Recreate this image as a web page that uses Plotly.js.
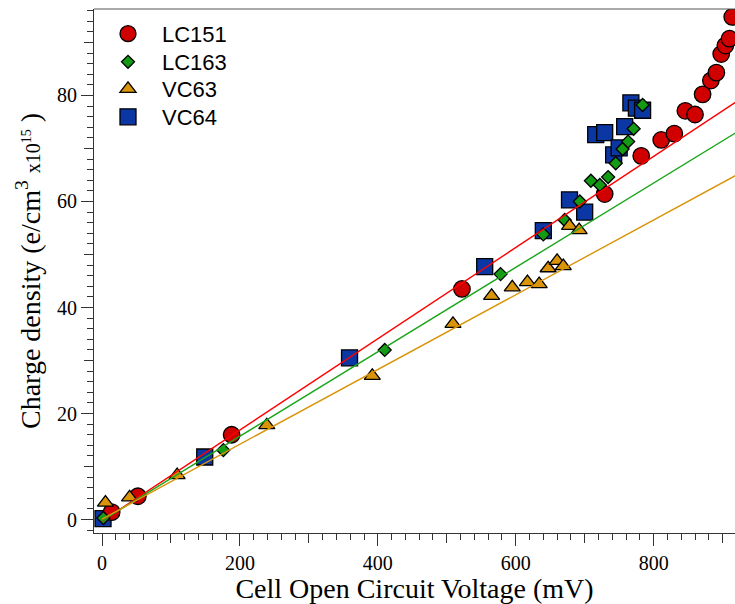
<!DOCTYPE html>
<html>
<head>
<meta charset="utf-8">
<script src="https://cdn.plot.ly/plotly-3.0.1.min.js"></script>
<style>html,body{margin:0;padding:0;overflow:hidden;background:#fff}</style>
</head>
<body>
<div id="chart" style="width:735px;height:604px"></div>
<script>
// ---- data (mV, e/cm3 x1e15) ----
const lc151X = [14, 52, 188, 522, 729, 782, 811, 830, 846, 860, 871, 883, 891, 898, 904, 910, 914];
const lc151Y = [1.4, 4.4, 16.0, 43.5, 61.4, 68.6, 71.6, 72.8, 77.1, 76.4, 80.2, 82.8, 84.3, 87.8, 89.4, 90.7, 94.8];

const lc163X = [2, 176, 410, 578, 640, 671, 693, 709, 722, 734, 745, 755, 763, 771, 784];
const lc163Y = [0.3, 13.1, 32.0, 46.3, 53.8, 56.5, 60.0, 63.9, 63.1, 64.6, 67.2, 69.9, 71.3, 73.7, 78.2];

const vc63X = [5, 40, 109, 239, 392, 509, 565, 595, 617, 634, 647, 660, 669, 678, 692];
const vc63Y = [3.2, 4.2, 8.4, 17.8, 27.1, 36.9, 42.2, 43.8, 44.8, 44.4, 47.4, 48.8, 47.8, 55.4, 54.6];

const vc64X = [1.5, 149, 359, 555, 640, 678, 700, 716, 729, 742, 750, 758, 767, 775, 784];
const vc64Y = [0.2, 11.8, 30.5, 47.7, 54.5, 60.3, 58.0, 72.6, 73.0, 68.8, 70.1, 74.1, 78.6, 77.6, 77.2];

// linear fits: [slope, intercept]
const fitNames = ['LC151 fit', 'LC163 fit', 'VC63 fit'];
const fitSlope = [0.0860, 0.0796, 0.0705];
const fitIntercept = [-0.3, -0.2, 0.1];
const fitX = [0, 960];

const xTickVals = [0, 200, 400, 600, 800];
const yTickVals = [0, 20, 40, 60, 80];

const serif = '"Liberation Serif", "Times New Roman", serif';
const sans = '"Liberation Sans", Arial, sans-serif';
const axisColor = '#333';

const markerLine = {color: '#000', width: 1.3};
const traces = [
  {name: 'VC64', x: vc64X, y: vc64Y, mode: 'markers', type: 'scatter', legend: 'legend4',
   marker: {symbol: 'square', size: 16, color: '#0a37a3', line: markerLine}},
  {name: 'LC151', x: lc151X, y: lc151Y, mode: 'markers', type: 'scatter', legend: 'legend',
   marker: {symbol: 'circle', size: 16.5, color: '#d00000', line: markerLine}},
  {name: 'LC163', x: lc163X, y: lc163Y, mode: 'markers', type: 'scatter', legend: 'legend2',
   marker: {symbol: 'diamond', size: 10, color: '#149a14', line: markerLine}},
  {name: 'VC63', x: vc63X, y: vc63Y, mode: 'markers', type: 'scatter', legend: 'legend3',
   marker: {symbol: 'triangle-up', size: 14, color: '#d9940a', line: markerLine}}
];
const fitColors = ['#ff0000', '#1aa51a', '#d9940a'];
fitNames.forEach((n, i) => {
  traces.push({name: n, x: fitX, y: fitX.map(v => fitSlope[i] * v + fitIntercept[i]),
    mode: 'lines', type: 'scatter', showlegend: false, hoverinfo: 'skip',
    line: {color: fitColors[i], width: 1.4}});
});
// carrier for the medium tick overlay axes
traces.push({x: [], y: [], xaxis: 'x2', yaxis: 'y2', type: 'scatter', mode: 'markers', showlegend: false});

const xRange = [-11.6, 918];
const yRange = [-2.53, 96.3];

function legendAt(y) {
  return {x: 0.0, y: y, xanchor: 'left', yanchor: 'top', bgcolor: 'rgba(0,0,0,0)',
    font: {family: sans, size: 22, color: '#000'}, itemwidth: 58};
}

const layout = {
  width: 735, height: 604,
  margin: {l: 94, r: 0, t: 9, b: 71},
  paper_bgcolor: '#fff', plot_bgcolor: '#fff',
  showlegend: true,
  legend: legendAt(0.9926),
  legend2: legendAt(0.9389),
  legend3: legendAt(0.8874),
  legend4: legendAt(0.834),
  xaxis: {
    range: xRange, showgrid: false, zeroline: false,
    showline: true, linecolor: axisColor, linewidth: 1,
    ticks: 'outside', ticklen: 12, tickwidth: 1, tickcolor: axisColor,
    tickvals: xTickVals, ticktext: xTickVals.map(String),
    tickfont: {family: serif, size: 20, color: '#000'},
    minor: {dtick: 20, tick0: 0, ticks: 'outside', ticklen: 6, tickwidth: 1, tickcolor: axisColor, showgrid: false},
    title: {text: 'Cell Open Circuit Voltage (mV)', font: {family: serif, size: 28, color: '#000'}, standoff: 4}
  },
  yaxis: {
    range: yRange, showgrid: false, zeroline: false,
    showline: true, linecolor: axisColor, linewidth: 1,
    ticks: 'outside', ticklen: 12, tickwidth: 1, tickcolor: axisColor,
    tickvals: yTickVals, ticktext: yTickVals.map(String),
    tickfont: {family: serif, size: 20, color: '#000'},
    minor: {dtick: 2, tick0: 0, ticks: 'outside', ticklen: 6, tickwidth: 1, tickcolor: axisColor, showgrid: false},
    title: {text: 'Charge density (e/cm<sup>3</sup> <span style="font-size:20px">x10<sup>15</sup></span> )',
      font: {family: serif, size: 28, color: '#000'}, standoff: 8}
  },
  xaxis2: {overlaying: 'x', anchor: 'y2', side: 'bottom', range: xRange, showgrid: false, zeroline: false,
    showline: false, ticks: 'outside', ticklen: 9, tickwidth: 1, tickcolor: axisColor, dtick: 100, tick0: 0,
    showticklabels: false},
  yaxis2: {overlaying: 'y', anchor: 'x2', side: 'left', range: yRange, showgrid: false, zeroline: false,
    showline: false, ticks: 'outside', ticklen: 9, tickwidth: 1, tickcolor: axisColor, dtick: 10, tick0: 0,
    showticklabels: false},
  shapes: [{type: 'line', xref: 'paper', yref: 'paper', x0: 0, x1: 1, y0: 1, y1: 1,
    line: {color: '#555', width: 1}}]
};

Plotly.newPlot('chart', traces, layout, {displayModeBar: false, staticPlot: true});
</script>
</body>
</html>
